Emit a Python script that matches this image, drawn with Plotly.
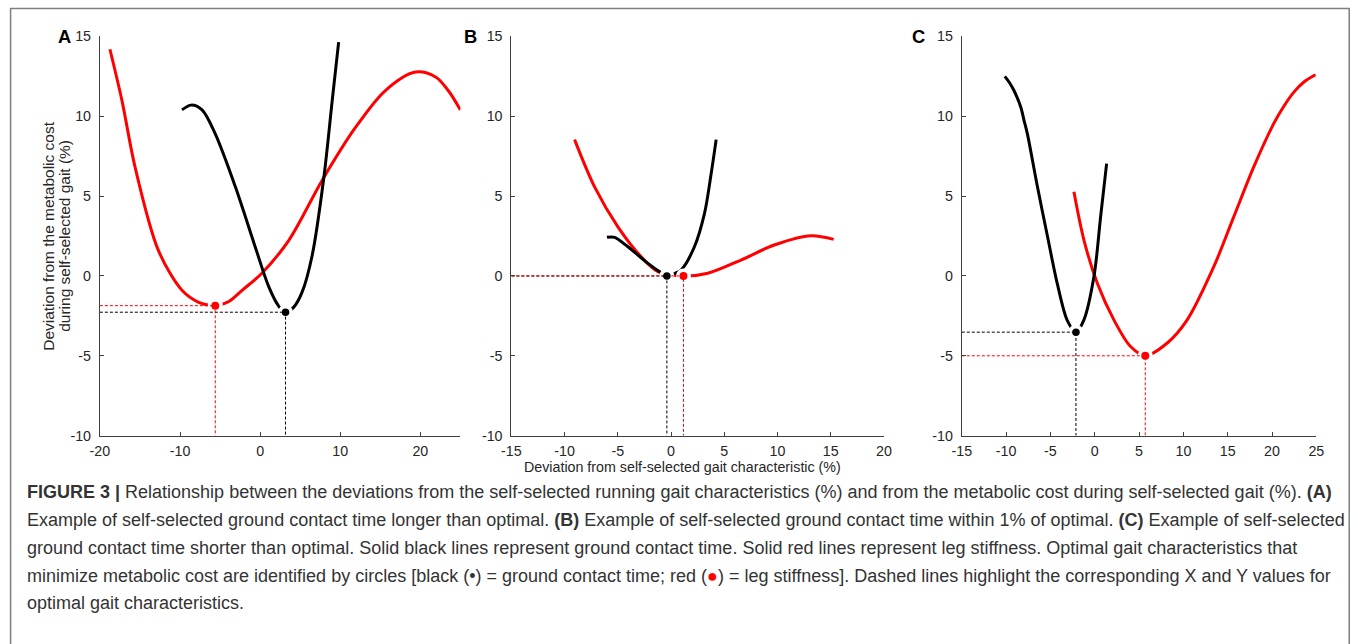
import plotly.graph_objects as go

# ---------------- data ----------------
# Panel A
a_red_x = [-18.75, -17.25, -15.6, -12.7, -9.75, -7.67, -5.6, -3.9, -2.25, 0.25, 3.6, 7.75, 11.9, 15.6, 19.4, 21.9, 23.5, 25.0]
a_red_y = [14.2, 11.0, 6.8, 1.6, -0.9, -1.65, -1.86, -1.6, -0.9, 0.19, 2.25, 6.0, 9.3, 11.6, 12.77, 12.46, 11.6, 10.4]
a_blk_x = [-9.75, -8.6, -7.25, -5.6, -3.1, -0.6, 1.1, 2.33, 3.17, 4.2, 5.25, 6.5, 7.96, 9.0, 9.8]
a_blk_y = [10.4, 10.7, 10.4, 8.9, 5.6, 1.8, -0.7, -1.9, -2.27, -1.95, -1.0, 1.3, 6.2, 11.0, 14.65]
a_opt_blk = (3.17, -2.27)
a_opt_red = (-5.6, -1.86)

# Panel B
b_red_x = [-9.06, -7.18, -4.99, -2.8, -1.23, 1.17, 3.46, 6.58, 9.7, 13.15, 15.28]
b_red_y = [8.54, 5.58, 3.08, 1.2, 0.27, 0.0, 0.17, 1.0, 1.94, 2.52, 2.29]
b_blk_x = [-6.02, -5.3, -4.05, -2.17, -0.92, -0.39, 0.39, 0.95, 2.2, 3.14, 3.77, 4.24]
b_blk_y = [2.42, 2.42, 1.83, 0.79, 0.2, 0.0, 0.17, 0.375, 1.83, 3.9, 6.4, 8.54]
b_opt_blk = (-0.39, 0.0)
b_opt_red = (1.17, 0.0)

# Panel C
c_red_x = [-2.35, -1.22, 0.29, 2.16, 4.04, 5.7, 8.18, 10.43, 13.43, 15.68, 17.94, 20.19, 21.3, 22.44, 23.6, 24.9]
c_red_y = [5.27, 2.25, -0.46, -2.75, -4.42, -5.0, -4.2, -2.75, 0.58, 3.7, 6.83, 9.54, 10.6, 11.5, 12.15, 12.6]
c_blk_x = [-10.15, -9.67, -9.1, -8.35, -7.98, -7.6, -6.47, -5.34, -4.22, -3.09, -2.12, -1.22, -0.09, 0.66, 1.34]
c_blk_y = [12.5, 12.15, 11.6, 10.58, 9.75, 8.9, 5.6, 2.5, -0.5, -2.8, -3.52, -2.75, -0.04, 3.7, 7.04]
c_opt_blk = (-2.12, -3.52)
c_opt_red = (5.7, -5.0)

x_ranges = [(-20, 25), (-15, 20), (-15, 25)]
x_ticks = [[-20, -10, 0, 10, 20], [-15, -10, -5, 0, 5, 10, 15, 20], [-15, -10, -5, 0, 5, 10, 15, 20, 25]]
y_ticks = [-10, -5, 0, 5, 10, 15]
panel_letters = ["A", "B", "C"]

y_title_lines = ["Deviation from the metabolic cost", "during self-selected gait (%)"]
x_title = "Deviation from self-selected gait characteristic (%)"

caption_lines = [
    "<b>FIGURE 3 |</b> Relationship between the deviations from the self-selected running gait characteristics (%) and from the metabolic cost during self-selected gait (%). <b>(A)</b>",
    "Example of self-selected ground contact time longer than optimal. <b>(B)</b> Example of self-selected ground contact time within 1% of optimal. <b>(C)</b> Example of self-selected",
    "ground contact time shorter than optimal. Solid black lines represent ground contact time. Solid red lines represent leg stiffness. Optimal gait characteristics that",
    "minimize metabolic cost are identified by circles [black (•) = ground contact time; red (<span style='color:#ff0000'>●</span>) = leg stiffness]. Dashed lines highlight the corresponding X and Y values for",
    "optimal gait characteristics.",
]

# ---------------- layout geometry ----------------
W, H = 1358, 644
# the photographed page shows the figure slightly offset and scaled; compensate
OX, SX, OY, SY = 8.0, 0.988, 8.0, 0.976
FS = 1 / 0.982  # font compensation

def px(x):  # reference pixel -> paper fraction
    return ((x - OX) / SX) / W
def py(y):
    return 1 - ((y - OY) / SY) / H

x_domains = [(px(98), px(459)), (px(510), px(883)), (px(961), px(1316))]
y_domain = (py(436), py(36.5))

RED = "#ff0000"
BLK = "#000000"
AX = "#404040"
FONT = "Liberation Sans, Arial, sans-serif"

fig = go.Figure()

panels = [
    (a_red_x, a_red_y, a_blk_x, a_blk_y, a_opt_blk, a_opt_red),
    (b_red_x, b_red_y, b_blk_x, b_blk_y, b_opt_blk, b_opt_red),
    (c_red_x, c_red_y, c_blk_x, c_blk_y, c_opt_blk, c_opt_red),
]

for i, (rx, ry, bx, by, ob, orr) in enumerate(panels):
    xa = "x" if i == 0 else f"x{i+1}"
    ya = "y" if i == 0 else f"y{i+1}"
    xmin = x_ranges[i][0]
    # curves
    fig.add_trace(go.Scatter(x=rx, y=ry, mode="lines", line=dict(color=RED, width=3, shape="spline", smoothing=0.9),
                             xaxis=xa, yaxis=ya, showlegend=False))
    fig.add_trace(go.Scatter(x=bx, y=by, mode="lines", line=dict(color=BLK, width=3, shape="spline", smoothing=0.9),
                             xaxis=xa, yaxis=ya, showlegend=False))
    # white halo that opens a small gap in the curves around each optimum
    fig.add_trace(go.Scatter(x=[orr[0], ob[0]], y=[orr[1], ob[1]], mode="markers",
                             marker=dict(color="white", size=15, line=dict(width=0)),
                             xaxis=xa, yaxis=ya, showlegend=False, hoverinfo="skip"))
    # dashed guide lines
    for (ox, oy), col in ((ob, BLK), (orr, RED)):
        fig.add_trace(go.Scatter(x=[xmin, ox, ox], y=[oy, oy, -10], mode="lines",
                                 line=dict(color=col, width=1, dash="3px,2px"),
                                 xaxis=xa, yaxis=ya, showlegend=False, hoverinfo="skip"))
    # optimal markers
    fig.add_trace(go.Scatter(x=[orr[0]], y=[orr[1]], mode="markers",
                             marker=dict(color=RED, size=8, line=dict(width=0)),
                             xaxis=xa, yaxis=ya, showlegend=False))
    fig.add_trace(go.Scatter(x=[ob[0]], y=[ob[1]], mode="markers",
                             marker=dict(color=BLK, size=7.5, line=dict(width=0)),
                             xaxis=xa, yaxis=ya, showlegend=False))

    axis_common = dict(showline=True, linecolor=AX, linewidth=1, ticks="inside", ticklen=4,
                       tickcolor=AX, tickwidth=1, showgrid=False, zeroline=False,
                       tickfont=dict(family=FONT, size=14 * FS, color="#262626"))
    xkey = "xaxis" if i == 0 else f"xaxis{i+1}"
    ykey = "yaxis" if i == 0 else f"yaxis{i+1}"
    fig.update_layout(**{
        xkey: dict(domain=list(x_domains[i]), range=list(x_ranges[i]), tickvals=x_ticks[i],
                   ticktext=[str(v) for v in x_ticks[i]], anchor=ya, ticklabelstandoff=2, **axis_common),
        ykey: dict(domain=list(y_domain), range=[-10, 15], tickvals=y_ticks,
                   ticktext=[str(v) for v in y_ticks], anchor=xa, ticklabelstandoff=5, **axis_common),
    })

annotations = []
letter_x = [63, 469, 918]
for i, L in enumerate(panel_letters):
    annotations.append(dict(x=px(letter_x[i]), y=py(37), xref="paper", yref="paper", text=f"<b>{L}</b>",
                            showarrow=False, font=dict(family=FONT, size=18 * FS, color="#000000"),
                            xanchor="center", yanchor="middle"))
for t, xx in zip(y_title_lines, [47, 63]):
    annotations.append(dict(x=px(xx), y=py(236), xref="paper", yref="paper", text=t, textangle=-90,
                            showarrow=False, font=dict(family=FONT, size=15.2 * FS, color="#262626"),
                            xanchor="center", yanchor="middle"))
annotations.append(dict(x=px(681), y=py(467), xref="paper", yref="paper", text=x_title,
                        showarrow=False, font=dict(family=FONT, size=14 * FS, color="#262626"),
                        xanchor="center", yanchor="middle"))
cap_y = [492, 520, 548, 576, 604]
for t, yy in zip(caption_lines, cap_y):
    annotations.append(dict(x=px(23), y=py(yy), xref="paper", yref="paper", text=t, align="left",
                            showarrow=False, font=dict(family=FONT, size=18.0, color="#333333"),
                            xanchor="left", yanchor="middle"))

fig.update_layout(
    width=W, height=H, margin=dict(l=0, r=0, t=0, b=0),
    paper_bgcolor="white", plot_bgcolor="white",
    annotations=annotations,
    shapes=[dict(type="rect", xref="paper", yref="paper", x0=0.6 / W, x1=1 - 0.8 / W, y0=-0.05, y1=1 - 0.6 / H,
                 line=dict(color="#7f7f7f", width=1.5), fillcolor="rgba(0,0,0,0)", layer="below")],
)

fig.write_html("out.html", config={"displayModeBar": False},
               post_script="document.body.style.margin='0';document.body.style.overflow='hidden';")
